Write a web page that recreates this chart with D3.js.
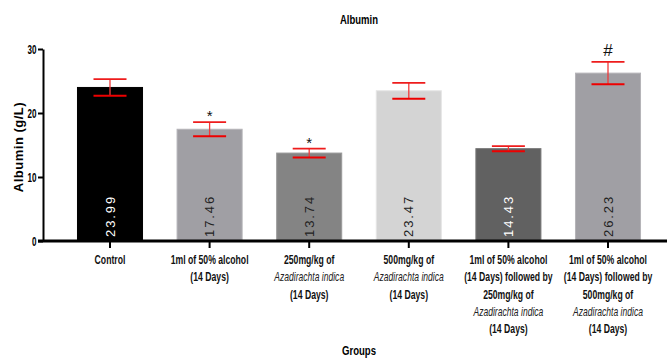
<!DOCTYPE html>
<html>
<head>
<meta charset="utf-8">
<script src="https://cdn.jsdelivr.net/npm/d3@7/dist/d3.min.js"></script>
<style>
  html, body { margin: 0; padding: 0; background: #fff; }
  svg { display: block; }
  text { font-family: "Liberation Sans", Arial, sans-serif; }
</style>
</head>
<body>
<svg id="chart" width="667" height="363"></svg>
<script>
// Group names (one entry per line of the axis label)
const groupLines = [
  ["Control"],
  ["1ml of 50% alcohol", "(14 Days)"],
  ["250mg/kg of", "Azadirachta indica", "(14 Days)"],
  ["500mg/kg of", "Azadirachta indica", "(14 Days)"],
  ["1ml of 50% alcohol", "(14 Days) followed by", "250mg/kg of", "Azadirachta indica", "(14 Days)"],
  ["1ml of 50% alcohol", "(14 Days) followed by", "500mg/kg of", "Azadirachta indica", "(14 Days)"]
];
const groupIds = ["g1", "g2", "g3", "g4", "g5", "g6"];
// Mean albumin (g/L) and error (SEM) per group
const meanValues = [23.99, 17.46, 13.74, 23.47, 14.43, 26.23];
const semValues = [1.3, 1.1, 0.7, 1.25, 0.4, 1.75];
// Significance markers
const sigMarks = ["", "*", "*", "", "", "#"];
// Y axis ticks
const yTicks = [0, 10, 20, 30];

const speciesName = "Azadirachta indica";
const barFill = ["#000000", "#a09fa4", "#848484", "#d4d4d4", "#616161", "#a09fa4"];
const barEdge = ["#000000", "#b4b3b7", "#999999", "#e4e4e4", "#777777", "#b4b3b7"];
const labelFill = ["#ffffff", "#222222", "#222222", "#222222", "#ffffff", "#222222"];

const svg = d3.select("#chart");

const y = d3.scaleLinear().domain([0, 30]).range([241, 49]);
const x = d3.scaleBand().domain(groupIds).range([60.2, 657.8])
  .paddingInner(0.337).paddingOuter(0.1685);
const cx = i => x(groupIds[i]) + x.bandwidth() / 2;

// Width of a string in the given style, used to derive a condensed squeeze factor
const probe = svg.append("text").attr("visibility", "hidden");
function measure(str, size, weight, style) {
  probe.attr("font-size", size).attr("font-weight", weight).attr("font-style", style).text(str);
  return probe.node().getComputedTextLength();
}
const boldSqueeze = 78 / measure("1ml of 50% alcohol", 12, "bold", "normal");
const italicSqueeze = 70 / measure(speciesName, 12, "normal", "italic");
const titleSqueeze = 38 / measure("Albumin", 12.5, "bold", "normal");
const groupsSqueeze = 34 / measure("Groups", 13, "bold", "normal");
const tickSqueeze = 9 / measure("30", 12, "bold", "normal");
probe.remove();

// Condensed text: horizontally squeezed around its anchor point
function narrowText(parent, px, py, str, size, sx, opts = {}) {
  return parent.append("text")
    .attr("transform", `translate(${px},${py}) scale(${sx},1)`)
    .attr("text-anchor", opts.anchor || "middle")
    .attr("font-size", size)
    .attr("font-weight", opts.weight || "bold")
    .attr("font-style", opts.style || "normal")
    .attr("fill", opts.fill || "#111")
    .text(str);
}

// Title
narrowText(svg, 359, 24, "Albumin", 12.5, titleSqueeze, { fill: "#000" });

// Bars
const g = svg.append("g");
g.selectAll("rect.bar").data(meanValues).join("rect")
  .attr("class", "bar")
  .attr("x", (d, i) => x(groupIds[i]) + 0.5)
  .attr("y", d => y(d))
  .attr("width", x.bandwidth() - 1)
  .attr("height", d => y(0) - y(d))
  .attr("fill", (d, i) => barFill[i])
  .attr("stroke", (d, i) => barEdge[i])
  .attr("stroke-width", 1);

// Value labels inside bars
g.selectAll("text.val").data(meanValues).join("text")
  .attr("class", "val")
  .attr("transform", (d, i) => `translate(${cx(i) + 4.5},237) rotate(-90)`)
  .attr("font-size", 13)
  .attr("letter-spacing", 1.9)
  .attr("fill", (d, i) => labelFill[i])
  .text(d => d.toFixed(2));

// Error bars
const capHalf = 16.5;
const eb = g.selectAll("g.err").data(meanValues).join("g").attr("class", "err");
eb.append("line")
  .attr("x1", (d, i) => cx(i)).attr("x2", (d, i) => cx(i))
  .attr("y1", (d, i) => y(d + semValues[i]))
  .attr("y2", (d, i) => y(d - semValues[i]))
  .attr("stroke", "#f23a3a").attr("stroke-width", 1.3);
eb.append("line")
  .attr("x1", (d, i) => cx(i) - capHalf).attr("x2", (d, i) => cx(i) + capHalf)
  .attr("y1", (d, i) => y(d + semValues[i]))
  .attr("y2", (d, i) => y(d + semValues[i]))
  .attr("stroke", "#ee1c1c").attr("stroke-width", 1.7);
eb.append("line")
  .attr("x1", (d, i) => cx(i) - capHalf).attr("x2", (d, i) => cx(i) + capHalf)
  .attr("y1", (d, i) => y(d - semValues[i]))
  .attr("y2", (d, i) => y(d - semValues[i]))
  .attr("stroke", "#ee0000").attr("stroke-width", 2);

// Significance markers
g.selectAll("text.sig").data(sigMarks).join("text")
  .attr("class", "sig")
  .attr("x", (d, i) => cx(i))
  .attr("y", (d, i) => d === "#" ? y(meanValues[i] + semValues[i]) - 6 : y(meanValues[i] + semValues[i]) - 1)
  .attr("text-anchor", "middle")
  .attr("font-size", d => d === "#" ? 17 : 15)
  .attr("fill", "#111")
  .text(d => d);

// Y axis
const yAxis = svg.append("g").attr("transform", "translate(43,0)")
  .call(d3.axisLeft(y).tickValues(yTicks).tickSize(5).tickSizeOuter(0));
yAxis.select(".domain").attr("stroke", "#000").attr("stroke-width", 2);
yAxis.selectAll(".tick line").attr("stroke", "#000").attr("stroke-width", 2);
yAxis.selectAll(".tick text")
  .attr("x", 0).attr("dy", "0.34em")
  .attr("transform", `translate(-6.5,0) scale(${tickSqueeze},1)`)
  .attr("font-size", 12).attr("font-weight", "bold").attr("fill", "#000");

// X axis
const xAxis = svg.append("g").attr("transform", "translate(0,241)")
  .call(d3.axisBottom(x).tickSize(7).tickSizeOuter(0).tickFormat(""));
xAxis.select(".domain").remove();
xAxis.selectAll(".tick line").attr("stroke", "#000").attr("stroke-width", 2);
svg.append("line").attr("x1", 38).attr("x2", 667).attr("y1", 241).attr("y2", 241)
  .attr("stroke", "#000").attr("stroke-width", 3);

// Group labels
const lab = svg.append("g");
groupLines.forEach((lines, i) => {
  lines.forEach((s, j) => {
    const italic = s === speciesName;
    narrowText(lab, cx(i), 264 + j * 17.3, s, 12, italic ? italicSqueeze : boldSqueeze, {
      weight: italic ? "normal" : "bold",
      style: italic ? "italic" : "normal",
      fill: italic ? "#222" : "#111"
    });
  });
});

// Axis titles
narrowText(svg, 359, 355, "Groups", 13, groupsSqueeze, { fill: "#000" });

svg.append("text")
  .attr("transform", "translate(23,147) rotate(-90)")
  .attr("text-anchor", "middle")
  .attr("font-size", 13).attr("font-weight", "bold").attr("letter-spacing", 0.5)
  .text("Albumin (g/L)");
</script>
</body>
</html>
